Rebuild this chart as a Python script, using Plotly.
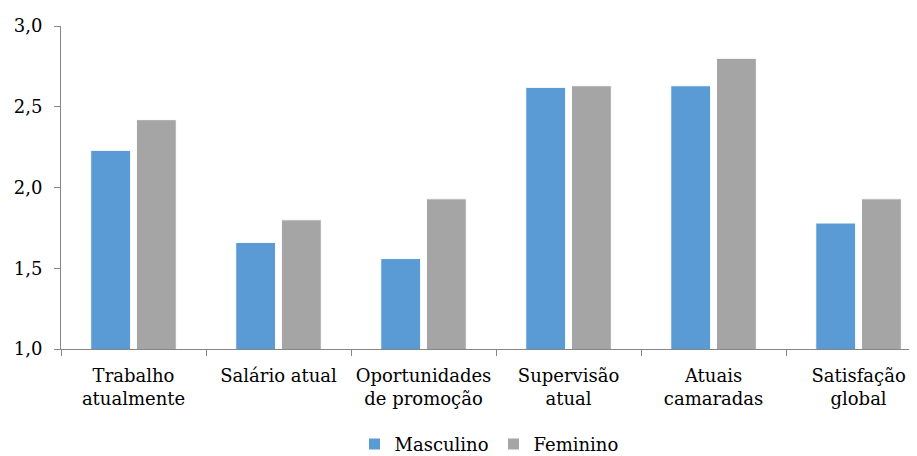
import plotly.graph_objects as go

categorias = ["Trabalho<br>atualmente", "Salário atual", "Oportunidades<br>de promoção",
              "Supervisão<br>atual", "Atuais<br>camaradas", "Satisfação<br>global"]
masculino = [2.23, 1.66, 1.56, 2.62, 2.63, 1.78]
feminino = [2.42, 1.80, 1.93, 2.63, 2.80, 1.93]

AZUL = "#5B9BD5"
CINZA = "#A5A5A5"
EIXO = "#868686"
FONTE = "DejaVu Serif"
TAM = 18

fig = go.Figure()
fig.add_trace(go.Bar(x=categorias, y=masculino, name="Masculino",
                     marker=dict(color=AZUL, line=dict(color="white", width=1)),
                     width=0.275, offset=-0.295))
fig.add_trace(go.Bar(x=categorias, y=feminino, name="Feminino",
                     marker=dict(color=CINZA, line=dict(color="white", width=1)),
                     width=0.275, offset=0.02))

# a página tem margem de 8 px, por isso a figura é 8 px mais pequena
fig.update_layout(
    width=909, height=448,
    margin=dict(l=53, r=0, t=18, b=107, autoexpand=False),
    paper_bgcolor="white", plot_bgcolor="white",
    separators=",.",
    font=dict(family=FONTE, size=TAM, color="black"),
    showlegend=True,
    legend=dict(orientation="h", x=0.5, xanchor="center", y=-0.295, yanchor="middle",
                font=dict(family=FONTE, size=TAM), traceorder="normal"),
    barmode="group",
)
fig.update_xaxes(
    type="category", range=[-0.5, 5.403], automargin=False, tickangle=0,
    showline=True, linecolor=EIXO, linewidth=1,
    ticks="outside", tickson="boundaries", ticklen=6, tickcolor=EIXO,
    ticklabelstandoff=10,
    showgrid=False, tickfont=dict(family=FONTE, size=TAM),
)
fig.update_yaxes(
    range=[1.0, 3.0], dtick=0.5, tickformat=".1f", automargin=False,
    showline=True, linecolor=EIXO, linewidth=1,
    ticks="outside", ticklen=6, tickcolor=EIXO,
    ticklabelstandoff=8,
    showgrid=False, zeroline=False, tickfont=dict(family=FONTE, size=TAM),
)

fig.write_html("out.html")
